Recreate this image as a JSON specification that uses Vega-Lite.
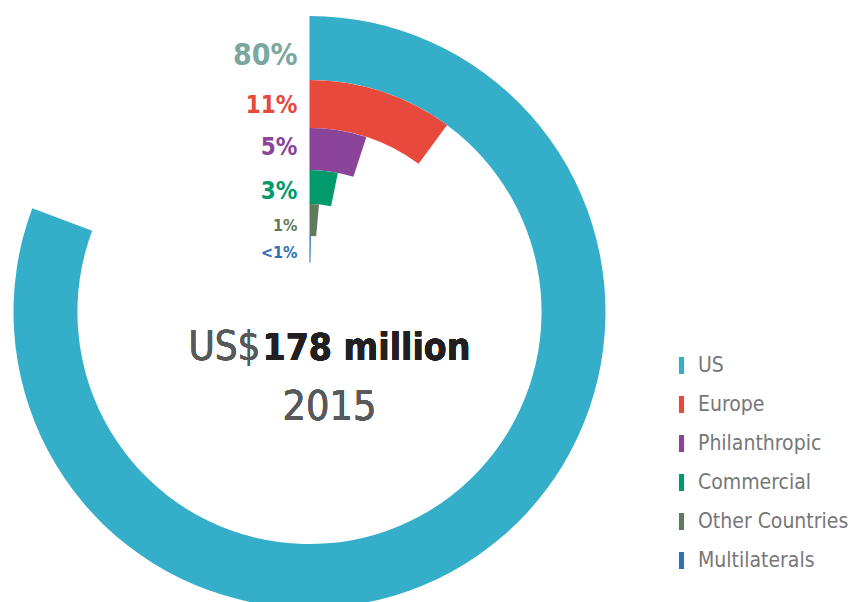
{
  "$schema": "https://vega.github.io/schema/vega-lite/v6.json",
  "width": 619,
  "height": 624,
  "padding": 0,
  "background": "white",
  "config": {"view": {"stroke": null}},
  "data": {
    "values": [
      {"category": "US", "share": 80.7, "label": "80%", "outer": 100, "inner": 78.4},
      {"category": "Europe", "share": 10.1, "label": "11%", "outer": 78.4, "inner": 62.2},
      {"category": "Philanthropic", "share": 5.0, "label": "5%", "outer": 62.2, "inner": 48.0},
      {"category": "Commercial", "share": 3.2, "label": "3%", "outer": 48.0, "inner": 36.5},
      {"category": "Other Countries", "share": 1.4, "label": "1%", "outer": 36.5, "inner": 25.7},
      {"category": "Multilaterals", "share": 0.3, "label": "<1%", "outer": 25.7, "inner": 16.6}
    ]
  },
  "layer": [
    {
      "mark": {"type": "arc"},
      "encoding": {
        "theta": {"field": "share", "type": "quantitative", "stack": null, "scale": {"domain": [0, 100], "range": [0, 6.283185]}},
        "theta2": {"datum": 0},
        "radius": {"field": "outer", "type": "quantitative", "scale": {"type": "linear", "domain": [0, 100], "range": [0, 296], "zero": true}},
        "radius2": {"field": "inner"},
        "color": {
          "field": "category", "type": "nominal",
          "scale": {
            "domain": ["US", "Europe", "Philanthropic", "Commercial", "Other Countries", "Multilaterals"],
            "range": ["#34aec9", "#e7493d", "#8b4499", "#009a6d", "#607a5d", "#2c70b8"]
          },
          "legend": {
            "title": null,
            "orient": "none",
            "legendX": 671,
            "legendY": 355,
            "symbolType": "M-0.3,-1H0.3V1H-0.3Z",
            "symbolSize": 289,
            "symbolStrokeWidth": 0,
            "symbolOpacity": 1,
            "labelFont": "DejaVu Sans Condensed",
            "labelFontSize": 21,
            "labelColor": "#777777",
            "labelOffset": 6,
            "rowPadding": 17,
            "labelLimit": 300
          }
        }
      }
    },
    {
      "transform": [{"filter": "datum.share > 4"}],
      "mark": {"type": "text", "align": "right", "baseline": "alphabetic", "dx": -12, "dy": -15, "fontWeight": "bold", "font": "DejaVu Sans Condensed"},
      "encoding": {
        "theta": {"datum": 0, "type": "quantitative"},
        "radius": {"field": "inner", "type": "quantitative"},
        "text": {"field": "label"},
        "size": {"condition": {"test": "datum.share > 50", "value": 30}, "value": 24},
        "color": {"condition": {"test": "datum.share > 50", "value": "#7aa89f"}, "field": "category", "type": "nominal", "legend": null}
      }
    },
    {
      "transform": [{"filter": "datum.share < 4"}],
      "mark": {"type": "text", "align": "right", "baseline": "alphabetic", "dx": -12, "dy": -5, "fontWeight": "bold", "font": "DejaVu Sans Condensed"},
      "encoding": {
        "theta": {"datum": 0, "type": "quantitative"},
        "radius": {"field": "inner", "type": "quantitative"},
        "text": {"field": "label"},
        "size": {"condition": {"test": "datum.share > 2", "value": 24}, "value": 16},
        "color": {"field": "category", "type": "nominal", "legend": null}
      }
    },
    {
      "mark": {"type": "text", "text": "US$", "align": "right", "baseline": "alphabetic", "dx": -49, "dy": 48, "fontSize": 40, "color": "#58595b", "font": "DejaVu Sans Condensed"},
      "encoding": {}
    },
    {
      "mark": {"type": "text", "text": "178 million", "align": "left", "baseline": "alphabetic", "dx": -47, "dy": 48, "fontSize": 37, "fontWeight": "bold", "color": "#231f20", "font": "DejaVu Sans Condensed"},
      "encoding": {}
    },
    {
      "mark": {"type": "text", "text": "2015", "align": "center", "baseline": "alphabetic", "dx": 20, "dy": 108, "fontSize": 41, "color": "#58595b", "font": "DejaVu Sans Condensed"},
      "encoding": {}
    }
  ]
}
